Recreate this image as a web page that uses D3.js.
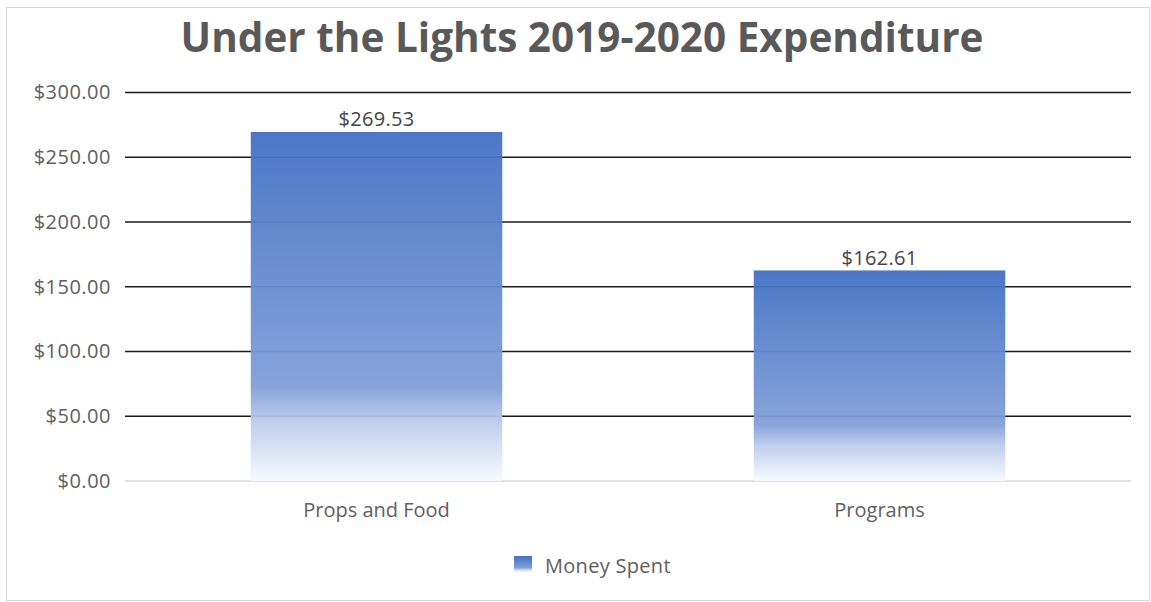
<!DOCTYPE html>
<html>
<head>
<meta charset="utf-8">
<script src="https://cdn.jsdelivr.net/npm/d3@7"></script>
<style>
  body { margin: 0; background: #fff; }
  text { font-family: "Open Sans", Lato, sans-serif; }
</style>
</head>
<body>
<div id="chart"></div>
<script>
// data
const categories = ["Props and Food", "Programs"];
const moneySpent = [269.53, 162.61];
const yTicks = [0, 50, 100, 150, 200, 250, 300];
const seriesName = "Money Spent";
const title = "Under the Lights 2019-2020 Expenditure";

const W = 1151, H = 602;
const margin = {top: 92.5, right: 20, bottom: 121, left: 125},
      width = 1131 - margin.left,
      height = 481 - margin.top;

const svg = d3.select("#chart")
  .append("svg")
  .attr("width", W)
  .attr("height", H);

// outer chart border
svg.append("rect")
  .attr("x", 6.5).attr("y", 7.5)
  .attr("width", W - 8).attr("height", H - 9)
  .attr("fill", "#fff")
  .attr("stroke", "#d9d9d9");

// gradient for bars
const defs = svg.append("defs");
const grad = defs.append("linearGradient")
  .attr("id", "barGrad")
  .attr("x1", 0).attr("y1", 0).attr("x2", 0).attr("y2", 1);
grad.append("stop").attr("offset", "0%").attr("stop-color", "#4270c3");
grad.append("stop").attr("offset", "73%").attr("stop-color", "#809fd8");
grad.append("stop").attr("offset", "83%").attr("stop-color", "#bccbec");
grad.append("stop").attr("offset", "100%").attr("stop-color", "#f7f9fe");

const g = svg.append("g")
  .attr("transform", "translate(" + margin.left + "," + margin.top + ")");

const x = d3.scaleBand()
  .domain(categories)
  .range([0, width])
  .paddingInner(0.5)
  .paddingOuter(0.25);

const y = d3.scaleLinear()
  .domain([0, 300])
  .range([height, 0]);

// gridlines
g.append("g")
  .selectAll("line")
  .data(yTicks.filter(d => d > 0))
  .join("line")
  .attr("x1", 0).attr("x2", width)
  .attr("y1", d => y(d))
  .attr("y2", d => y(d))
  .attr("stroke", "#1a1a1a")
  .attr("stroke-width", 1.4);

// zero line
g.append("line")
  .attr("x1", 0).attr("x2", width)
  .attr("y1", y(0)).attr("y2", y(0))
  .attr("stroke", "#d9d9d9")
  .attr("stroke-width", 1.5);

// y axis labels
const yAxis = g.append("g")
  .call(d3.axisLeft(y).tickValues(yTicks).tickSize(0).tickPadding(14)
        .tickFormat(d => "$" + d3.format(".2f")(d)));
yAxis.select(".domain").remove();
yAxis.selectAll("text")
  .attr("fill", "#606060")
  .style("font-size", "20px")
  .style("letter-spacing", "0.5px");

// bars
g.append("g")
  .selectAll("rect")
  .data(moneySpent)
  .join("rect")
  .attr("x", (d, i) => x(categories[i]))
  .attr("y", d => y(d))
  .attr("width", x.bandwidth())
  .attr("height", d => y(0) - y(d))
  .attr("fill", "url(#barGrad)")
  .attr("fill-opacity", 0.95);

// data labels
g.append("g")
  .selectAll("text")
  .data(moneySpent)
  .join("text")
  .attr("x", (d, i) => x(categories[i]) + x.bandwidth() / 2)
  .attr("y", d => y(d) - 5.5)
  .attr("text-anchor", "middle")
  .attr("fill", "#454545")
  .style("font-size", "20px")
  .style("letter-spacing", "0.3px")
  .text(d => "$" + d3.format(".2f")(d));

// x axis labels
const xAxis = g.append("g")
  .attr("transform", "translate(0," + height + ")")
  .call(d3.axisBottom(x).tickSize(0).tickPadding(22));
xAxis.select(".domain").remove();
xAxis.selectAll("text")
  .attr("fill", "#606060")
  .style("font-size", "20px");

// title
svg.append("text")
  .attr("x", 582)
  .attr("y", 52)
  .attr("text-anchor", "middle")
  .attr("fill", "#595959")
  .style("font-size", "40.5px")
  .style("font-weight", "bold")
  .text(title);

// legend
const legend = svg.append("g").attr("transform", "translate(514,556)");
legend.append("rect")
  .attr("width", 18).attr("height", 16)
  .attr("fill", "url(#barGrad)");
legend.append("text")
  .attr("x", 31).attr("y", 17)
  .attr("fill", "#606060")
  .style("font-size", "20px")
  .style("letter-spacing", "0.3px")
  .text(seriesName);
</script>
</body>
</html>
